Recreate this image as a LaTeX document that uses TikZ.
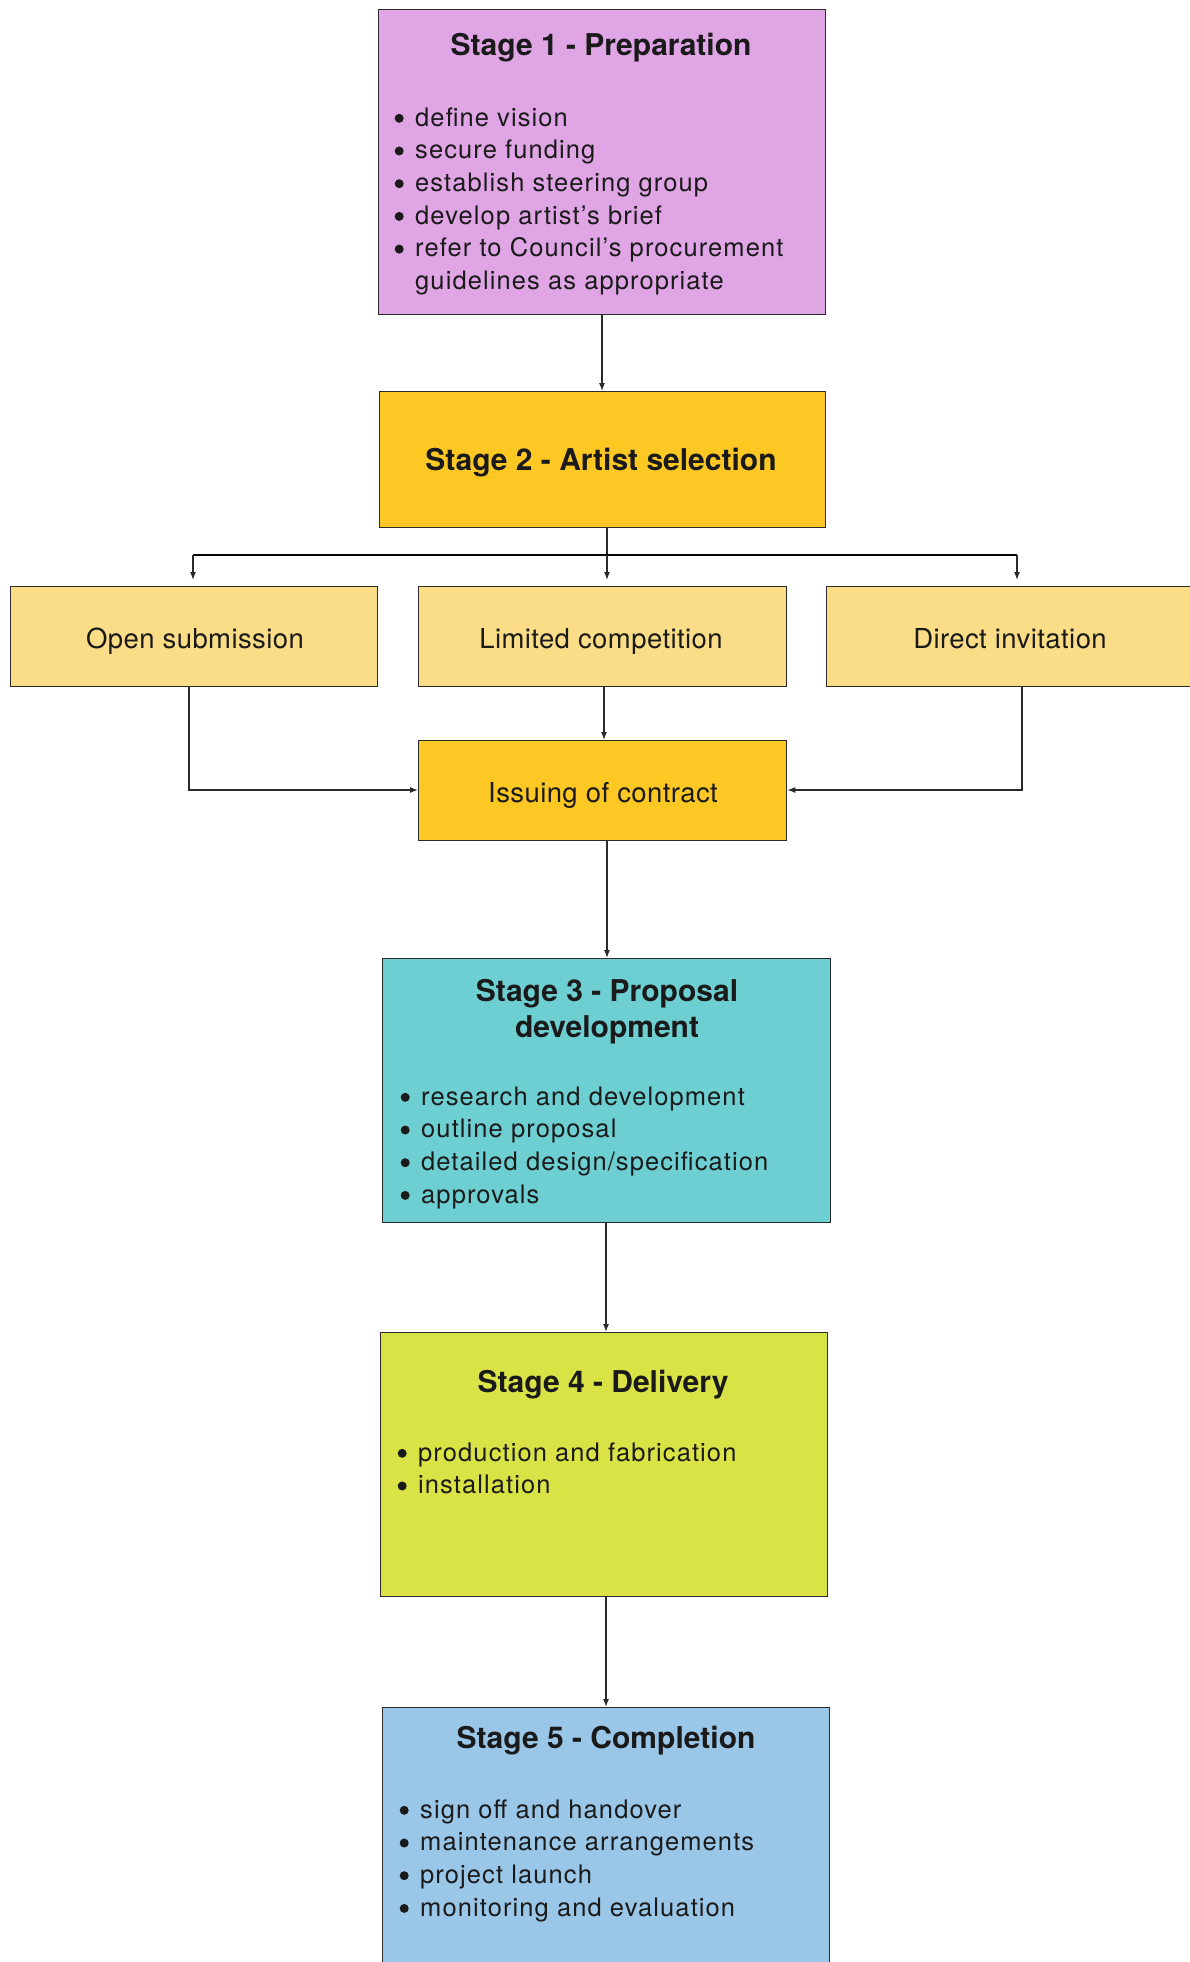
\documentclass[tikz,border=0pt]{standalone}
\usepackage{fontspec}
\setmainfont{TeX Gyre Heros}
\newfontfamily\bodyface[LetterSpace=4.3]{TeX Gyre Heros}
\newfontfamily\labelface[LetterSpace=1.5]{TeX Gyre Heros}
\usetikzlibrary{arrows.meta}
\definecolor{cpurple}{HTML}{DFA5E4}
\definecolor{cgold}{HTML}{FDC823}
\definecolor{clight}{HTML}{FCDD87}
\definecolor{cteal}{HTML}{6ECFD2}
\definecolor{clime}{HTML}{DAE346}
\definecolor{cblue}{HTML}{9AC6E8}
\definecolor{cline}{HTML}{2B2B2B}
\definecolor{ctext}{HTML}{1A1A1A}
\newcommand{\bfont}{\bodyface\fontsize{25.5}{32.7}\selectfont}
\newcommand{\tfont}{\fontsize{30}{36}\selectfont\bfseries}
\newcommand{\lfont}{\labelface\fontsize{27.5}{30}\selectfont}
\newcommand{\bdot}{\tikz[baseline=0pt,x=1pt,y=1pt]\fill[ctext] (4.5,7.7) circle (4.5);}
\newcommand{\bitem}[1]{\makebox[20.5pt][l]{\bdot}#1}
\newcommand{\bcont}[1]{\hspace*{20.5pt}#1}
\tikzset{
  box/.style={draw=cline, line width=1.3pt, rectangle, inner sep=0pt, anchor=north west},
  lbl/.style={inner sep=0pt, text=ctext, anchor=base},
  lst/.style={inner sep=0pt, text=ctext, anchor=base west},
  conn/.style={draw=cline, line width=1.2pt},
  arr/.style={conn, -{Latex[length=8pt,width=6pt]}},
  busline/.style={draw=black, line width=2pt}
}
\begin{document}
\begin{tikzpicture}[x=1pt,y=-1pt]
\useasboundingbox (0,0) rectangle (1190,1962);
% boxes
\node[box, fill=cpurple, minimum width=447pt, minimum height=305pt] (s1) at (378,9) {};
\node[box, fill=cgold, minimum width=446pt, minimum height=136pt] (s2) at (379,391) {};
\node[box, fill=clight, minimum width=367pt, minimum height=100pt] (o1) at (10,586) {};
\node[box, fill=clight, minimum width=368pt, minimum height=100pt] (o2) at (418,586) {};
\node[box, fill=clight, minimum width=368pt, minimum height=100pt] (o3) at (826,586) {};
\node[box, fill=cgold, minimum width=368pt, minimum height=100pt] (ic) at (418,740) {};
\node[box, fill=cteal, minimum width=448pt, minimum height=264pt] (s3) at (382,958) {};
\node[box, fill=clime, minimum width=447pt, minimum height=264pt] (s4) at (380,1332) {};
\node[box, fill=cblue, minimum width=447pt, minimum height=280pt] (s5) at (382,1707) {};
% texts
\node[lbl] (t1) at (601,55) {\tfont Stage 1 - Preparation};
\node[lst] (l1) at (394.5,126) {\bfont\begin{tabular}[t]{@{}l@{}}
\bitem{define vision}\\
\bitem{secure funding}\\
\bitem{establish steering group}\\
\bitem{develop artist’s brief}\\
\bitem{refer to Council’s procurement}\\
\bcont{guidelines as appropriate}
\end{tabular}};
\node[lbl] (t2) at (601,470) {\tfont Stage 2 - Artist selection};
\node[lbl] (to1) at (195,648) {\lfont Open submission};
\node[lbl] (to2) at (601,648) {\lfont Limited competition};
\node[lbl] (to3) at (1010,648) {\lfont Direct invitation};
\node[lbl] (tic) at (603,802) {\lfont Issuing of contract};
\node[lbl] (t3) at (607,1001) {\tfont\begin{tabular}[t]{@{}c@{}}Stage 3 - Proposal\\development\end{tabular}};
\node[lst] (l3) at (400.5,1105) {\bfont\begin{tabular}[t]{@{}l@{}}
\bitem{research and development}\\
\bitem{outline proposal}\\
\bitem{detailed design/specification}\\
\bitem{approvals}
\end{tabular}};
\node[lbl] (t4) at (603,1392) {\tfont Stage 4 - Delivery};
\node[lst] (l4) at (397.5,1461) {\bfont\begin{tabular}[t]{@{}l@{}}
\bitem{production and fabrication}\\
\bitem{installation}
\end{tabular}};
\node[lbl] (t5) at (606,1748) {\tfont Stage 5 - Completion};
\node[lst] (l5) at (399.5,1818) {\bfont\begin{tabular}[t]{@{}l@{}}
\bitem{sign off and handover}\\
\bitem{maintenance arrangements}\\
\bitem{project launch}\\
\bitem{monitoring and evaluation}
\end{tabular}};
% connectors
\coordinate (c1) at (602,0);
\draw[arr] (c1 |- s1.south) -- (c1 |- s2.north);
\coordinate (busL) at (193,555);
\coordinate (busM) at (607,555);
\coordinate (busR) at (1017,555);
\draw[conn] (busM |- s2.south) -- (busM);
\draw[busline] (busL) -- (busR);
\draw[arr, shorten >=6pt] (busL) -- (busL |- o1.north);
\draw[arr, shorten >=6pt] (busM) -- (busM |- o2.north);
\draw[arr, shorten >=6pt] (busR) -- (busR |- o3.north);
\coordinate (j1) at (189,790);
\coordinate (j3) at (1022,790);
\coordinate (j2) at (604,0);
\draw[arr] (j1 |- o1.south) -- (j1) -- (ic.west |- j1);
\draw[arr] (j3 |- o3.south) -- (j3) -- (ic.east |- j3);
\draw[arr] (j2 |- o2.south) -- (j2 |- ic.north);
\coordinate (c3) at (607,0);
\draw[arr] (c3 |- ic.south) -- (c3 |- s3.north);
\coordinate (c4) at (606,0);
\draw[arr] (c4 |- s3.south) -- (c4 |- s4.north);
\draw[arr] (c4 |- s4.south) -- (c4 |- s5.north);
\end{tikzpicture}
\end{document}
